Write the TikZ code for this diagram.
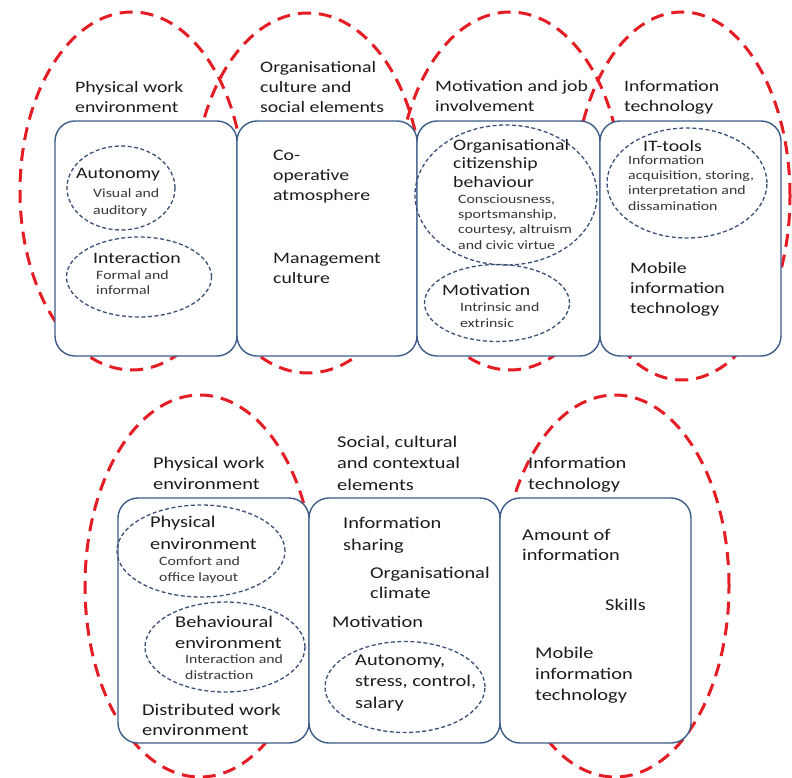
\documentclass[tikz,border=0pt]{standalone}
\usepackage{fontspec}
\usetikzlibrary{shapes.geometric}
\newfontfamily\calfont{Carlito}[FakeStretch=1.24]
\newcommand\bigtxt{\calfont\fontsize{16}{20}\selectfont}
\newcommand\bigtxtb{\calfont\fontsize{16.5}{21.5}\selectfont}
\newcommand\smtxt{\calfont\fontsize{12.8}{16}\selectfont}
\definecolor{boxc}{RGB}{62,92,138}
\definecolor{ellc}{RGB}{58,80,118}
\definecolor{redc}{RGB}{228,28,36}
\definecolor{txtc}{RGB}{28,28,28}
\definecolor{smc}{RGB}{55,55,55}
\tikzset{
  redell/.style={ellipse, draw=redc, line width=3bp, dash pattern=on 13bp off 8bp, inner sep=0},
  boxnode/.style={rectangle, rounded corners=20bp, draw=boxc, line width=1.4bp, fill=white, inner sep=0},
  blueell/.style={ellipse, draw=ellc, line width=1.3bp, dash pattern=on 4bp off 2.5bp, inner sep=0},
  lab/.style={font=\bigtxt, text=txtc, align=left, anchor=base west, inner sep=0},
  labb/.style={font=\bigtxtb, text=txtc, align=left, anchor=base west, inner sep=0},
  sml/.style={font=\smtxt, text=smc, align=left, anchor=base west, inner sep=0},
}
\begin{document}
\begin{tikzpicture}[x=1bp,y=-1bp]
\useasboundingbox (0,0) rectangle (792,778);
% red dashed groups
\node[redell, minimum width=224bp, minimum height=358bp] (r1) at (132,191) {};
\node[redell, minimum width=228bp, minimum height=360bp] (r2) at (308,193) {};
\node[redell, minimum width=224bp, minimum height=358bp] (r3) at (510,191) {};
\node[redell, minimum width=216bp, minimum height=368bp] (r4) at (682,196) {};
\node[redell, minimum width=230bp, minimum height=382bp] (r5) at (200,586) {};
\node[redell, minimum width=228bp, minimum height=382bp] (r6) at (615,586) {};
% boxes
\node[boxnode, minimum width=182bp, minimum height=235bp] (b1) at (146,238.5) {};
\node[boxnode, minimum width=180bp, minimum height=235bp] (b2) at (327,238.5) {};
\node[boxnode, minimum width=183bp, minimum height=235bp] (b3) at (508.5,238.5) {};
\node[boxnode, minimum width=181bp, minimum height=235bp] (b4) at (690.5,238.5) {};
\node[boxnode, minimum width=191bp, minimum height=245bp] (b5) at (213.5,620.5) {};
\node[boxnode, minimum width=191bp, minimum height=245bp] (b6) at (404.5,620.5) {};
\node[boxnode, minimum width=191bp, minimum height=245bp] (b7) at (595.5,620.5) {};
% blue dashed ellipses
\node[blueell, minimum width=108bp, minimum height=84bp] (e1) at (121,188) {};
\node[blueell, minimum width=145bp, minimum height=80bp] (e2) at (139,277) {};
\node[blueell, minimum width=182bp, minimum height=140bp] (e3) at (506,195) {};
\node[blueell, minimum width=145bp, minimum height=77bp] (e4) at (497,303) {};
\node[blueell, minimum width=160bp, minimum height=110bp] (e5) at (687,183) {};
\node[blueell, minimum width=168bp, minimum height=92bp] (e6) at (201,551) {};
\node[blueell, minimum width=160bp, minimum height=90bp] (e7) at (225,647) {};
\node[blueell, minimum width=160bp, minimum height=91bp] (e8) at (405,687) {};
% top headings (anchor = baseline of last line)
\node[lab] (h1) at (75,112) {Physical work\\environment};
\node[lab] (h2) at (260,112) {Organisational\\culture and\\social elements};
\node[lab] (h3) at (435,111) {Motivation and job\\involvement};
\node[lab] (h4) at (624,111) {Information\\technology};
% box 1
\node[lab] (t1) at (76,178) {Autonomy};
\node[sml, font=\calfont\fontsize{12.8}{17}\selectfont] (s1) at (93,214) {Visual and\\auditory};
\node[lab] (t2) at (93,263) {Interaction};
\node[sml, font=\calfont\fontsize{12.8}{15}\selectfont] (s2) at (96,294) {Formal and\\informal};
% box 2
\node[lab] (t3) at (273,200) {Co-\\operative\\atmosphere};
\node[lab] (t4) at (273,283) {Management\\culture};
% box 3
\node[lab, font=\calfont\fontsize{16}{18.5}\selectfont] (t5) at (453,187) {Organisational\\citizenship\\behaviour};
\node[sml, font=\calfont\fontsize{12.8}{15.3}\selectfont] (s3) at (458,249) {Consciousness,\\sportsmanship,\\courtesy, altruism\\and civic virtue};
\node[lab] (t6) at (442,295) {Motivation};
\node[sml] (s4) at (460,327) {Intrinsic and\\extrinsic};
% box 4
\node[lab] (t7) at (643,151) {IT-tools};
\node[sml, font=\calfont\fontsize{12.8}{15.3}\selectfont] (s5) at (628,210) {Information\\acquisition, storing,\\interpretation and\\dissamination};
\node[lab] (t8) at (630,313) {Mobile\\information\\technology};
% bottom headings
\node[labb] (h5) at (153,489.5) {Physical work\\environment};
\node[labb] (h6) at (337,490) {Social, cultural\\and contextual\\elements};
\node[labb] (h7) at (528,489.5) {Information\\technology};
% box 5
\node[labb, font=\calfont\fontsize{16.5}{22}\selectfont] (t9) at (150,549) {Physical\\environment};
\node[sml, font=\calfont\fontsize{12.8}{16}\selectfont] (s6) at (159,581) {Comfort and\\office layout};
\node[labb, font=\calfont\fontsize{16.5}{21}\selectfont] (t10) at (175,648) {Behavioural\\environment};
\node[sml] (s7) at (185,679) {Interaction and\\distraction};
\node[labb, font=\calfont\fontsize{16.5}{20}\selectfont] (t11) at (142,735) {Distributed work\\environment};
% box 6
\node[labb, font=\calfont\fontsize{16.5}{22}\selectfont] (t12) at (343,550) {Information\\sharing};
\node[labb, font=\calfont\fontsize{16.5}{20}\selectfont] (t13) at (370,598) {Organisational\\climate};
\node[labb] (t14) at (332,627) {Motivation};
\node[labb] (t15) at (355,708) {Autonomy,\\stress, control,\\salary};
% box 7
\node[labb, font=\calfont\fontsize{16.5}{20}\selectfont] (t16) at (522,560) {Amount of\\information};
\node[labb] (t17) at (605,610) {Skills};
\node[labb, font=\calfont\fontsize{16.5}{21}\selectfont] (t18) at (535,700) {Mobile\\information\\technology};
\end{tikzpicture}
\end{document}
